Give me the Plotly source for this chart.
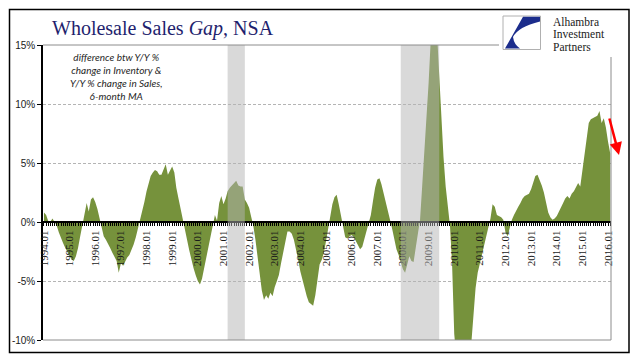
import plotly.graph_objects as go
import pandas as pd

# ---------------- data ----------------
start_month = "1994-01-01"
gap_values = [
    0.8, 0.6, 0.1, 0.0, 0.3, 0.0, -0.3, -0.9, -1.4, -1.8, -2.2, -2.6,          # 1994
    -2.9, -3.2, -3.3, -2.9, -2.2, -1.2, -0.2, 0.9, 1.6, 0.9, 1.9, 2.1,         # 1995
    1.7, 1.1, 0.3, -0.6, -1.2, -1.5, -1.8, -2.2, -2.6, -2.9, -3.3, -4.3,       # 1996
    -3.5, -3.7, -3.3, -3.0, -2.8, -2.4, -1.9, -1.3, -0.6, 0.1, 0.8, 1.7,       # 1997
    2.6, 3.3, 3.9, 4.2, 4.4, 4.3, 4.0, 4.0, 4.4, 4.9, 4.0, 4.3,                # 1998
    4.7, 4.2, 2.9, 2.0, 1.2, 0.3, -0.6, -1.5, -2.4, -3.2, -3.9, -4.5,          # 1999
    -5.0, -5.3, -4.8, -3.9, -3.0, -2.0, -1.0, -0.2, 0.6, 0.1, 1.6, 2.2,        # 2000
    1.5, 2.0, 2.6, 2.9, 3.1, 3.3, 3.5, 3.1, 3.0, 3.0, 1.9, 1.6,                # 2001
    1.2, 0.4, -0.3, -1.5, -3.0, -4.5, -5.8, -6.6, -6.2, -6.5, -6.0, -6.3,      # 2002
    -5.5, -5.0, -4.5, -3.5, -2.5, -1.5, -0.8, -0.8, -1.0, -1.5, -2.3, -3.2,    # 2003
    -4.2, -5.0, -5.6, -6.3, -6.8, -7.0, -7.1, -6.2, -5.0, -3.6, -3.2, -2.6,    # 2004
    -1.6, -0.6, 0.4, 1.5, 2.1, 2.3, 1.5, 0.5, -0.6, -1.3, -1.4, -1.2,          # 2005
    -1.1, -1.3, -1.6, -1.9, -2.3, -2.1, -1.4, -0.8, -0.2, 0.6, 1.8, 2.9,       # 2006
    3.6, 3.7, 3.2, 2.5, 1.7, 1.0, 0.2, -0.6, -1.5, -2.3, -2.8, -3.3,           # 2007
    -4.0, -4.3, -3.6, -2.9, -3.3, -3.4, -2.2, -1.0, 0.2, 3.0, 5.8, 8.2,        # 2008
    11.8, 15.5, 16.5, 17.0, 16.0, 12.0, 8.8, 5.5, 3.0, 1.2, -0.3, -3.5,        # 2009
    -9.5, -11.5, -12.5, -13.0, -12.5, -12.0, -11.5, -11.0, -10.3, -7.5, -5.6, -4.3,  # 2010
    -3.5, -2.6, -1.8, -1.2, -0.5, 0.3, 1.5, 1.3, 0.6, 0.5, 0.4, 0.2,           # 2011
    -0.9, -1.2, -0.4, 0.2, 0.6, 1.0, 1.3, 1.6, 2.0, 2.2, 2.3, 2.4,             # 2012
    2.8, 3.3, 3.9, 4.0, 3.6, 3.1, 2.5, 1.6, 0.8, 0.4, 0.2, 0.3,                # 2013
    0.5, 0.9, 1.2, 1.6, 2.0, 2.2, 2.0, 2.4, 2.6, 3.0, 3.3, 3.0,                # 2014
    4.5, 6.0, 7.2, 8.4, 8.7, 8.8, 8.9, 9.0, 9.4, 8.4, 8.8, 8.0,                # 2015
    6.8, 5.8,                                                                  # 2016
]
x_tick_labels = ["1994.01", "1995.01", "1996.01", "1997.01", "1998.01", "1999.01",
                 "2000.01", "2001.01", "2002.01", "2003.01", "2004.01", "2005.01",
                 "2006.01", "2007.01", "2008.01", "2009.01", "2010.01", "2011.01",
                 "2012.01", "2013.01", "2014.01", "2015.01", "2016.01"]
y_tick_vals = [-10, -5, 0, 5, 10, 15]
y_tick_labels = ["-10%", "-5%", "0%", "5%", "10%", "15%"]
recession_starts = ["2001-03-01", "2007-12-01"]
recession_ends = ["2001-11-01", "2009-06-01"]
title_html = "Wholesale Sales <i>Gap</i>, NSA"
note_lines = ["difference btw Y/Y %", "change in Inventory &",
              "Y/Y % change in Sales,", "6-month MA"]
logo_lines = ["Alhambra", "Investment", "Partners"]

# ---------------- layout helpers ----------------
W, H = 641, 358
L, R, T, B = 43, 611, 45, 340
Y_MIN, Y_MAX = -10, 15


def px(x):
    return (x - L) / (R - L)


def py(y):
    return (B - y) / (B - T)


months = pd.date_range(start_month, periods=len(gap_values), freq="MS")
tick_dates = [pd.Timestamp(lbl.replace(".", "-") + "-01") for lbl in x_tick_labels]

GREEN = "#76923C"

fig = go.Figure()
fig.add_trace(go.Scatter(
    x=months, y=gap_values, mode="lines", fill="tozeroy",
    fillcolor=GREEN, line=dict(width=0, color=GREEN),
    hoverinfo="skip", showlegend=False,
))

shapes = []
# recession shading
for s, e in zip(recession_starts, recession_ends):
    shapes.append(dict(type="rect", xref="x", yref="paper", x0=s, x1=e, y0=0, y1=1,
                       fillcolor="#b4b4b4", opacity=0.5, line=dict(width=0), layer="above"))
# plot border (top, right, bottom) gray
gray = "#8c8c8c"
shapes.append(dict(type="line", xref="paper", yref="paper", x0=0, x1=1, y0=1, y1=1,
                   line=dict(color=gray, width=1), layer="above"))
shapes.append(dict(type="line", xref="paper", yref="paper", x0=1, x1=1, y0=0, y1=1,
                   line=dict(color=gray, width=1), layer="above"))
shapes.append(dict(type="line", xref="paper", yref="paper", x0=0, x1=1, y0=0, y1=0,
                   line=dict(color=gray, width=1), layer="above"))
# white logo background
shapes.append(dict(type="rect", xref="paper", yref="paper", x0=px(499), x1=px(622),
                   y0=py(57), y1=py(11), fillcolor="white", line=dict(width=0), layer="above"))
# logo box
shapes.append(dict(type="rect", xref="paper", yref="paper", x0=px(503), x1=px(540.5),
                   y0=py(49.5), y1=py(16), fillcolor="white",
                   line=dict(color="#b0b0b0", width=1), layer="above"))


def P(x, y):
    return f"{px(x):.5f},{py(y):.5f}"


logo_path = (f"M {P(505, 48.5)} L {P(523, 16.8)} L {P(540, 16.8)} L {P(540, 21.5)} "
             f"Q {P(518, 27)} {P(513, 37)} Q {P(514, 44.5)} {P(520, 48.5)} Z")
shapes.append(dict(type="path", xref="paper", yref="paper", path=logo_path,
                   fillcolor="#1C2D8C", line=dict(width=0), layer="above"))
# outer frame
shapes.append(dict(type="rect", xref="paper", yref="paper", x0=px(9.5), x1=px(629),
                   y0=py(352.5), y1=py(9.5), line=dict(color="black", width=1.5),
                   fillcolor="rgba(0,0,0,0)", layer="above"))

annotations = []
annotations.append(dict(xref="paper", yref="paper", x=px(50), y=py(29),
                        xanchor="left", yanchor="middle", showarrow=False,
                        text=title_html,
                        font=dict(family="Liberation Serif, serif", size=20, color="#1F1F6E")))
annotations.append(dict(xref="paper", yref="paper", x=px(116), y=py(77),
                        xanchor="center", yanchor="middle", showarrow=False, align="center",
                        text="<br>".join(f"<i>{t}</i>" for t in note_lines),
                        font=dict(family="Lato, sans-serif", size=10, color="#262626")))
for i, t in enumerate(logo_lines):
    annotations.append(dict(xref="paper", yref="paper", x=px(551), y=py(21.5 + 12.5 * i),
                            xanchor="left", yanchor="middle", showarrow=False, text=t,
                            font=dict(family="Liberation Serif, serif", size=11.5, color="#1a1a1a")))
# red arrow
annotations.append(dict(xref="paper", yref="paper", x=px(619), y=py(155),
                        ax=-10, ay=-38, axref="pixel", ayref="pixel",
                        showarrow=True, arrowhead=2, arrowsize=1, arrowwidth=2.5,
                        arrowcolor="#FF0000", text=""))

fig.update_layout(
    width=W, height=H,
    margin=dict(l=L, r=W - R, t=T, b=H - B, pad=0),
    paper_bgcolor="white", plot_bgcolor="white",
    shapes=shapes, annotations=annotations, showlegend=False,
    xaxis=dict(
        type="date",
        range=["1993-12-18", "2016-02-12"],
        anchor="free", position=(0 - Y_MIN) / (Y_MAX - Y_MIN),
        showline=True, linecolor="black", linewidth=2,
        showgrid=False, zeroline=False,
        tickmode="array", tickvals=tick_dates, ticktext=x_tick_labels,
        tickangle=-90, ticks="outside", ticklen=3, tickcolor="black", tickwidth=1,
        minor=dict(ticks="outside", dtick="M1", tick0=start_month, ticklen=3,
                   tickcolor="black", tickwidth=1, showgrid=False),
        tickfont=dict(family="Liberation Serif, serif", size=11, color="#1a1a1a"),
    ),
    yaxis=dict(
        range=[Y_MIN, Y_MAX],
        tickmode="array", tickvals=y_tick_vals, ticktext=y_tick_labels,
        showline=True, linecolor="black", linewidth=1.5,
        ticks="outside", ticklen=4, tickcolor="black",
        showgrid=True, gridcolor="#b4b4b4", griddash="3px,2px", gridwidth=1,
        zeroline=False,
        tickfont=dict(family="Liberation Sans, sans-serif", size=10, color="#1a1a1a"),
    ),
)

fig.write_html("out.html", config={"displayModeBar": False},
               post_script="document.body.style.margin='0';document.body.style.overflow='hidden';")
